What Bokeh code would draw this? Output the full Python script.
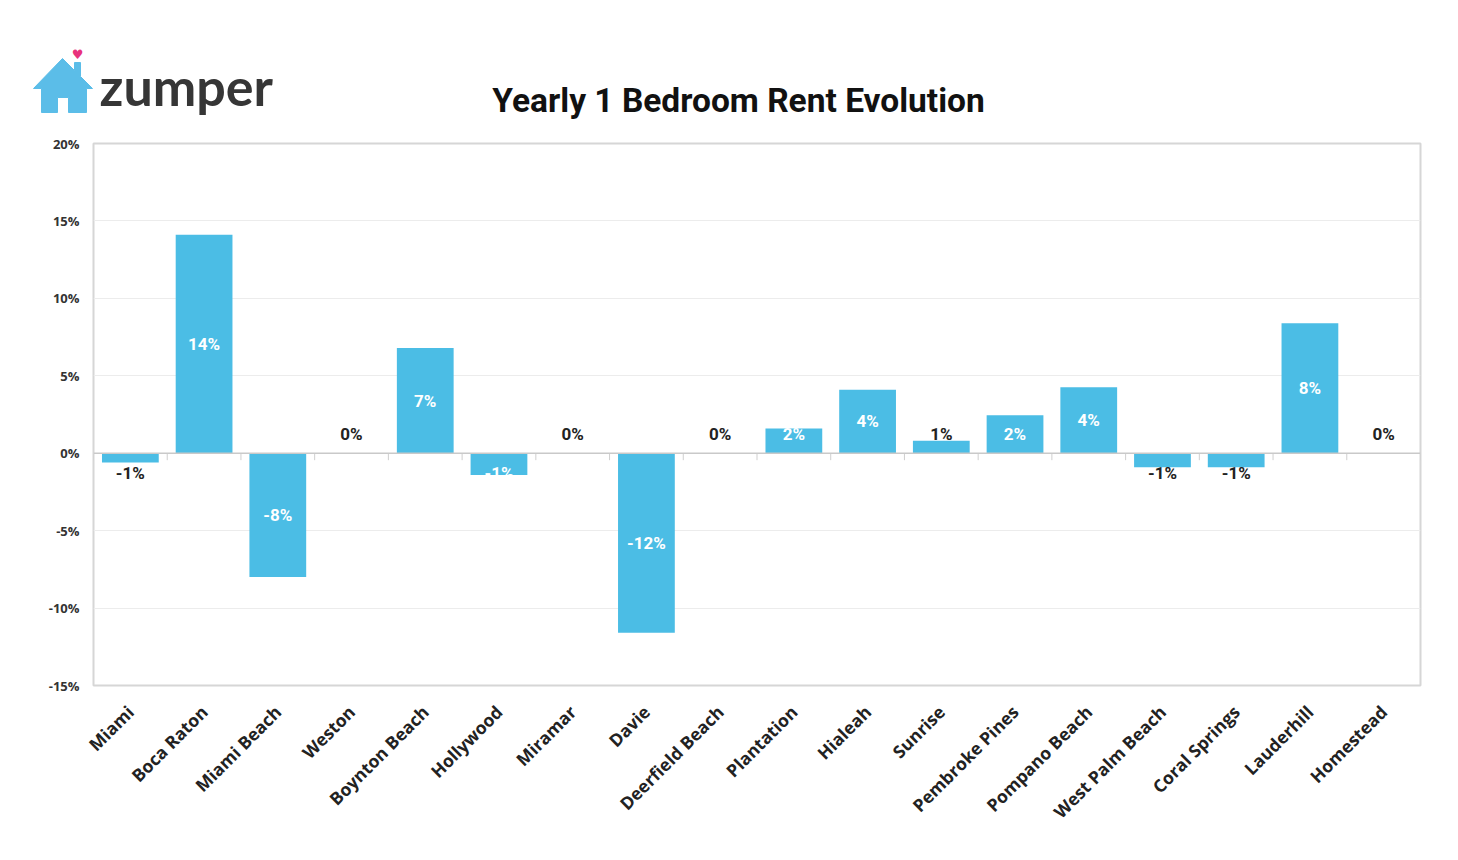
from bokeh.plotting import figure
from bokeh.models import Range1d, FixedTicker, Span, ColumnDataSource, CustomJSTickFormatter
from bokeh.embed import file_html
from bokeh.resources import INLINE
from bokeh.core.properties import value

cities = ["Miami", "Boca Raton", "Miami Beach", "Weston", "Boynton Beach", "Hollywood",
          "Miramar", "Davie", "Deerfield Beach", "Plantation", "Hialeah", "Sunrise",
          "Pembroke Pines", "Pompano Beach", "West Palm Beach", "Coral Springs",
          "Lauderhill", "Homestead"]
changes = [-0.6, 14.1, -8.0, 0.0, 6.8, -1.4, 0.0, -11.6, 0.0, 1.6, 4.1, 0.8,
           2.45, 4.26, -0.9, -0.9, 8.4, 0.0]
y_ticks = [-15, -10, -5, 0, 5, 10, 15, 20]
title_text = "Yearly 1 Bedroom Rent Evolution"
brand = "zumper"

BAR = "#4bbde5"
FONT = "Roboto"

# page layout (pixels)
LEFT, TOP, FW, FH, RIGHT = 93, 143, 1327, 542, 30
W, H = LEFT + FW + RIGHT, 844
Y0, Y1 = -15, 20
n = len(cities)


def dx(px):  # page pixel -> data x (for decorations outside the frame)
    return (px - LEFT) / FW * n


def dy(py):  # page pixel -> data y
    return Y1 - (py - TOP) / FH * (Y1 - Y0)


xs = [i + 0.5 for i in range(n)]
label_y, label_color = [], []
for v in changes:
    half = v / 2
    label_y.append(max(half, 1.25) if v >= 0 else min(half, -1.3))
    label_color.append("white" if abs(v) >= 1.2 else "#222222")
labels = [f"{round(v):.0f}%" for v in changes]

src = ColumnDataSource(dict(x=xs, top=changes, ly=label_y, lc=label_color, lab=labels))

p = figure(width=W, height=H, x_range=Range1d(0, n), y_range=Range1d(Y0, Y1),
           output_backend="svg", toolbar_location=None,
           min_border_left=LEFT, min_border_right=RIGHT, min_border_top=TOP,
           min_border_bottom=H - TOP - FH)
p.outline_line_color = "#d6d6d6"
p.outline_line_width = 2
p.xgrid.visible = False
p.ygrid.grid_line_color = "#ececec"
p.ygrid.grid_line_width = 1

p.vbar(x="x", top="top", bottom=0, width=0.77, fill_color=BAR, line_color=None, source=src)

p.add_layout(Span(location=0, dimension="width", line_color="#c9c9c9", line_width=1.5))
p.segment(x0=list(range(n + 1)), y0=[0] * (n + 1), x1=list(range(n + 1)), y1=[-0.45] * (n + 1),
          line_color="#cfcfcf", line_width=1)

p.text(x="x", y="ly", text="lab", text_color="lc", source=src, text_font=value(FONT),
       text_font_style="bold", text_font_size="17px", text_align="center", text_baseline="middle")

p.yaxis.ticker = FixedTicker(ticks=y_ticks)
p.yaxis.formatter = CustomJSTickFormatter(code="return tick + '%';")
p.yaxis.axis_line_color = None
p.yaxis.major_tick_line_color = None
p.yaxis.minor_tick_line_color = None
p.yaxis.major_label_text_font = "Open Sans"
p.yaxis.major_label_text_font_style = "bold"
p.yaxis.major_label_text_font_size = "13px"
p.yaxis.major_label_text_color = "#333333"
p.yaxis.major_label_standoff = 8

p.xaxis.ticker = FixedTicker(ticks=xs)
p.xaxis.major_label_overrides = {x: c for x, c in zip(xs, cities)}
p.xaxis.axis_line_color = None
p.xaxis.major_tick_line_color = None
p.xaxis.minor_tick_line_color = None
p.xaxis.major_label_orientation = 0.785398
p.xaxis.major_label_text_font = "Open Sans"
p.xaxis.major_label_text_font_style = "bold"
p.xaxis.major_label_text_font_size = "17.5px"
p.xaxis.major_label_text_color = "#222222"
p.xaxis.major_label_standoff = 17

# ---------- header: logo + title (drawn at overlay level, outside the frame) ----------
house_px = [(33, 88), (62, 58), (74, 70), (74, 62), (80, 62), (80, 76), (92, 88), (86, 88),
            (86, 112), (68, 112), (68, 97), (57, 97), (57, 112), (41, 112), (41, 88)]
p.patch([dx(a) for a, b in house_px], [dy(b) for a, b in house_px],
        fill_color="#5bbde8", line_color="#5bbde8", line_width=1, level="overlay")
p.text(x=[dx(77)], y=[dy(54)], text=["\u2665"], text_font=value("DejaVu Sans"),
       text_font_size="13px", text_color="#e8327c", text_align="center",
       text_baseline="middle", level="overlay")
p.text(x=[dx(99)], y=[dy(85)], text=[brand], text_font=value("Lato"), text_font_style="bold",
       text_font_size="52px", text_color="#363636", text_align="left",
       text_baseline="alphabetic", level="overlay")
p.text(x=[dx(738)], y=[dy(100)], text=[title_text], text_font=value(FONT),
       text_font_style="bold", text_font_size="33.5px", text_color="#111111",
       text_align="center", text_baseline="alphabetic", level="overlay")

open("out.html", "w").write(file_html(p, INLINE))
